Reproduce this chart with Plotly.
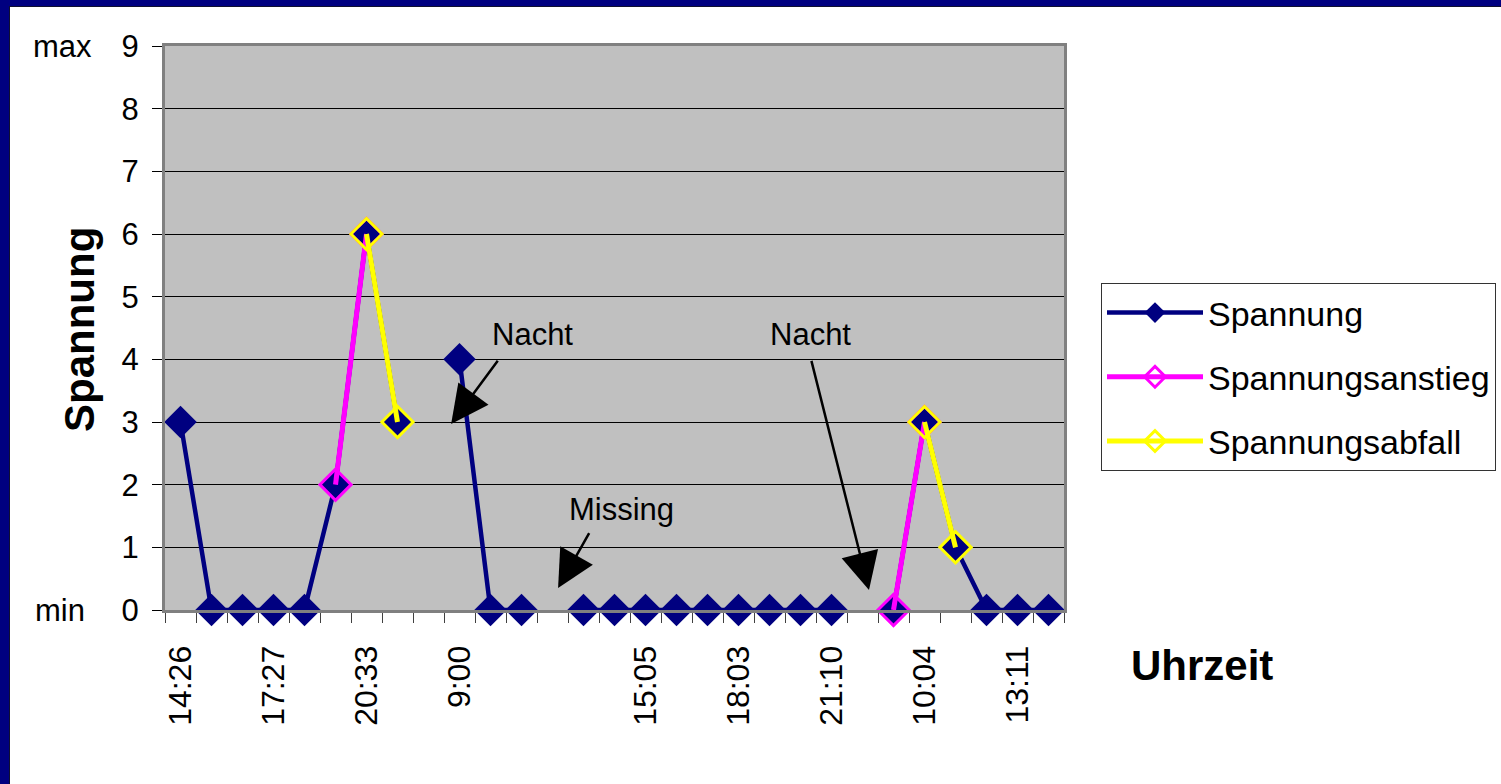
import plotly.graph_objects as go

# Measurement slots (29 readings); None marks a missing reading
spannung = [3, 0, 0, 0, 0, 2, 6, 3, None, 4, 0, 0, None, 0, 0, 0, 0, 0, 0, 0, 0, 0, None, 0, 3, 1, 0, 0, 0]
# Rising and falling stretches highlighted on top of the main series
anstieg = [None, None, None, None, None, 2, 6, None, None, None, None, None, None, None, None,
           None, None, None, None, None, None, None, None, 0, 3, None, None, None, None]
abfall = [None, None, None, None, None, None, 6, 3, None, None, None, None, None, None, None,
          None, None, None, None, None, None, None, None, None, 3, 1, None, None, None]

tick_pos = [0, 3, 6, 9, 15, 18, 21, 24, 27]
tick_text = ["14:26", "17:27", "20:33", "9:00", "15:05", "18:03", "21:10", "10:04", "13:11"]
y_ticks = list(range(10))

x = list(range(len(spannung)))

NAVY = "#000080"
FONT = "Arial, Liberation Sans, sans-serif"

W, H = 1501, 784
L, R, T, B = 165, 437, 46, 174
PW, PH = W - L - R, H - T - B


def px_x(p):
    return (p - L) / PW


def px_y(p):
    return (H - B - p) / PH


fig = go.Figure()

fig.add_trace(go.Scatter(
    x=x, y=spannung, name="Spannung", mode="lines+markers",
    line=dict(color=NAVY, width=4.5),
    marker=dict(symbol="diamond", size=25, color=NAVY),
    cliponaxis=False, legendgroup="a",
))
fig.add_trace(go.Scatter(
    x=x, y=anstieg, name="Spannungsanstieg", mode="lines+markers",
    line=dict(color="#FF00FF", width=5),
    marker=dict(symbol="diamond", size=24, color="rgba(0,0,0,0)",
                line=dict(color="#FF00FF", width=3)),
    cliponaxis=False, legendgroup="b",
))
fig.add_trace(go.Scatter(
    x=x, y=abfall, name="Spannungsabfall", mode="lines+markers",
    line=dict(color="#FFFF00", width=5),
    marker=dict(symbol="diamond", size=24, color="rgba(0,0,0,0)",
                line=dict(color="#FFFF00", width=3)),
    cliponaxis=False, legendgroup="c",
))


def label(text, x, y, xref="x", yref="y", size=31, angle=0):
    return dict(text=text, x=x, y=y, xref=xref, yref=yref, showarrow=False,
                xanchor="center", yanchor="middle", textangle=angle,
                font=dict(size=size))


annotations = [
    label("max", px_x(62), 9, xref="paper"),
    label("min", px_x(60), 0, xref="paper"),
    label("<b>Spannung</b>", px_x(79), px_y(330), "paper", "paper", size=42, angle=-90),
    label("<b>Uhrzeit</b>", px_x(1202), px_y(665), "paper", "paper", size=42),
    label("Nacht", 11.37, 4.39),
    label("Nacht", 20.31, 4.39),
    label("Missing", 14.24, 1.6),
]

arrows = [
    ((10.27, 4.0), (8.73, 2.97)),
    ((20.34, 4.0), (22.21, 0.32)),
    ((13.21, 1.25), (12.18, 0.35)),
]
for (tx, ty), (hx, hy) in arrows:
    annotations.append(dict(
        text="", x=hx, y=hy, ax=tx, ay=ty, axref="x", ayref="y",
        showarrow=True, arrowhead=2, arrowsize=3.0, arrowwidth=2.5, arrowcolor="black",
    ))

shapes = [
    # frame band along the top and left edges of the slide
    dict(type="rect", xref="paper", yref="paper", x0=px_x(0), x1=px_x(W), y0=px_y(6), y1=px_y(0),
         fillcolor=NAVY, line=dict(width=0), layer="above"),
    dict(type="rect", xref="paper", yref="paper", x0=px_x(0), x1=px_x(9), y0=px_y(H), y1=px_y(0),
         fillcolor=NAVY, line=dict(width=0), layer="above"),
    dict(type="line", xref="paper", yref="paper", x0=px_x(9), x1=px_x(W), y0=px_y(6.5), y1=px_y(6.5),
         line=dict(color="#101030", width=1), layer="above"),
    dict(type="line", xref="paper", yref="paper", x0=px_x(9.5), x1=px_x(9.5), y0=px_y(H), y1=px_y(6),
         line=dict(color="#101030", width=1), layer="above"),
]

fig.update_layout(
    width=W, height=H,
    margin=dict(l=L, r=R, t=T, b=B, autoexpand=False),
    paper_bgcolor="white",
    plot_bgcolor="#C0C0C0",
    font=dict(family=FONT, color="black", size=31),
    showlegend=True,
    legend=dict(
        x=px_x(1101), y=px_y(283), xanchor="left", yanchor="top",
        bordercolor="#333333", borderwidth=1, bgcolor="white",
        font=dict(size=34), tracegroupgap=17, itemwidth=96,
    ),
    annotations=annotations,
    shapes=shapes,
)

fig.update_xaxes(
    range=[-0.5, len(spannung) - 0.5],
    tickmode="array", tickvals=tick_pos, ticktext=tick_text,
    tickangle=-90, tickfont=dict(size=32),
    ticks="outside", ticklen=20, tickcolor="rgba(0,0,0,0)",
    minor=dict(tickmode="linear", tick0=-0.5, dtick=1, ticks="outside", ticklen=10,
               tickcolor="#404040", tickwidth=1, showgrid=False),
    showgrid=False, zeroline=False,
    showline=True, linecolor="#808080", linewidth=3, mirror=True,
)
fig.update_yaxes(
    range=[0, 9],
    tickmode="array", tickvals=y_ticks,
    tickfont=dict(size=31),
    ticks="outside", ticklen=10, tickcolor="black", tickwidth=1,
    ticklabelstandoff=7,
    showgrid=True, gridcolor="black", gridwidth=1, zeroline=False,
    showline=True, linecolor="#808080", linewidth=3, mirror=True,
)

fig.write_html("out.html")
